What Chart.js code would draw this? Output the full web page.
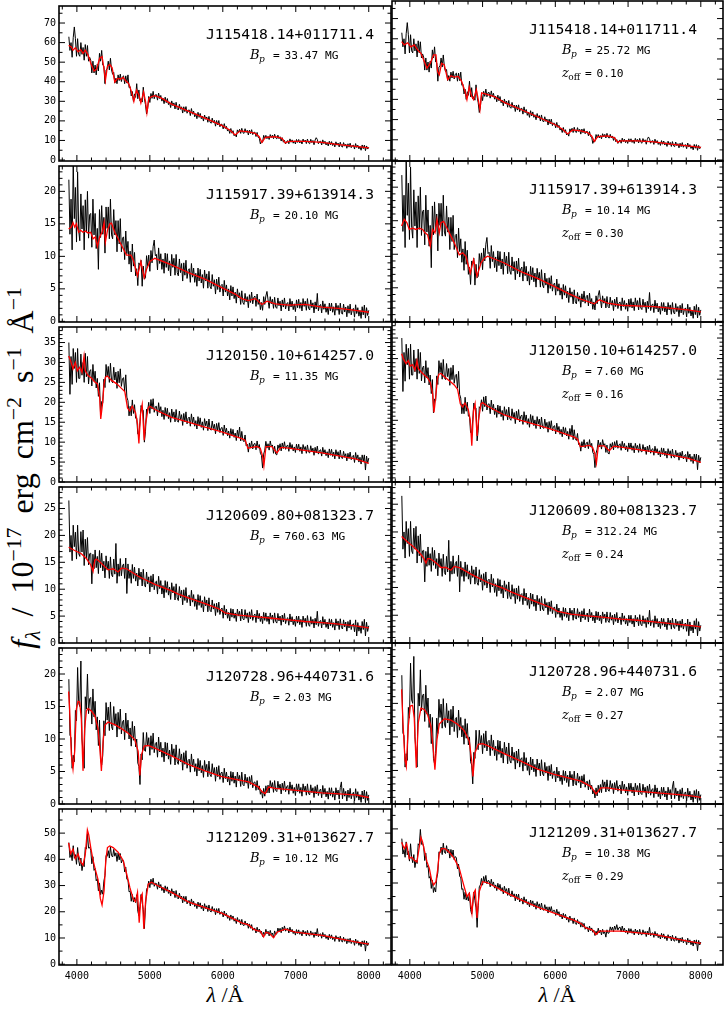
<!DOCTYPE html>
<html>
<head>
<meta charset="UTF-8">
<title>Magnetic white dwarf spectra</title>
<script src="https://cdn.jsdelivr.net/npm/chart.js"></script>
<style>
  html, body { margin: 0; padding: 0; background: #fff; }
  body { width: 726px; height: 1011px; position: relative; overflow: hidden; }
  canvas { position: absolute; }
  .xlab { position: absolute; top: 982px; width: 120px; margin-left: -60px; text-align: center;
          font: 22px "Liberation Serif", "DejaVu Serif", serif; color: #000; }
  .ylab { position: absolute; left: 22px; top: 468px; white-space: nowrap; word-spacing: 6px;
          transform: translate(-50%, -50%) rotate(-90deg);
          font: 32px "Liberation Serif", "DejaVu Serif", serif; color: #000; }
  sup, sub { font-size: 0.68em; line-height: 0; }
</style>
</head>
<body>
<div class="ylab"><i>f</i><sub><i>λ</i></sub> / 10<sup>−17</sup> erg cm<sup>−2</sup> s<sup>−1</sup> Å<sup>−1</sup></div>
<div class="xlab" style="left:225px"><i>λ</i> /Å</div>
<div class="xlab" style="left:557px"><i>λ</i> /Å</div>

<script>
  // observed wavelength grid (Angstrom), shared by all six spectra
  const waveObs = [
    3890,3905,3920,3935,3950,3965,3980,3995,4010,4025,
    4040,4055,4070,4085,4100,4115,4130,4145,4160,4175,
    4190,4205,4220,4235,4250,4265,4280,4295,4310,4325,
    4340,4355,4370,4385,4400,4415,4430,4445,4460,4475,
    4490,4505,4520,4535,4550,4565,4580,4595,4610,4625,
    4640,4655,4670,4685,4700,4715,4730,4745,4760,4775,
    4790,4805,4820,4835,4850,4865,4880,4895,4910,4925,
    4940,4955,4970,4985,5000,5015,5030,5045,5060,5075,
    5090,5105,5120,5135,5150,5165,5180,5195,5210,5225,
    5240,5255,5270,5285,5300,5315,5330,5345,5360,5375,
    5390,5405,5420,5435,5450,5465,5480,5495,5510,5525,
    5540,5555,5570,5585,5600,5615,5630,5645,5660,5675,
    5690,5705,5720,5735,5750,5765,5780,5795,5810,5825,
    5840,5855,5870,5885,5900,5915,5930,5945,5960,5975,
    5990,6005,6020,6035,6050,6065,6080,6095,6110,6125,
    6140,6155,6170,6185,6200,6215,6230,6245,6260,6275,
    6290,6305,6320,6335,6350,6365,6380,6395,6410,6425,
    6440,6455,6470,6485,6500,6515,6530,6545,6560,6575,
    6590,6605,6620,6635,6650,6665,6680,6695,6710,6725,
    6740,6755,6770,6785,6800,6815,6830,6845,6860,6875,
    6890,6905,6920,6935,6950,6965,6980,6995,7010,7025,
    7040,7055,7070,7085,7100,7115,7130,7145,7160,7175,
    7190,7205,7220,7235,7250,7265,7280,7295,7310,7325,
    7340,7355,7370,7385,7400,7415,7430,7445,7460,7475,
    7490,7505,7520,7535,7550,7565,7580,7595,7610,7625,
    7640,7655,7670,7685,7700,7715,7730,7745,7760,7775,
    7790,7805,7820,7835,7850,7865,7880,7895,7910,7925,
    7940,7955,7970,7985,8000
  ];

  const fluxJ1154 = [
    63,56,60,52.5,62.5,68,62,53,62,54,
    53,60,54,57.5,51,59,53,58.5,50.5,52.5,
    51,44.5,50.5,44.5,48.5,43.5,49,45.5,54.5,50.5,
    56,48.5,48,39,46,46.5,50.5,46,52,46,
    43.8,44.8,39.3,41.8,39,43.5,40.6,43.9,40.1,42.5,
    43,39,43,39.3,43.5,37,37.5,32.7,35,30,
    33.8,32,39,31.3,35.8,30.2,31.4,29.6,37.2,31.3,
    28.3,23.5,26.3,32.5,29.4,34,31.5,35.1,31.3,33.3,
    33.4,30.6,34.2,31.4,33,30.1,31.6,28.8,32.1,29.3,
    31.4,28.3,29.7,26.8,30.2,27.8,29.2,26.1,29.5,26.2,
    25.6,28.5,25.9,27.2,24,27.2,24.7,27.3,23.9,25.4,
    25.6,22.7,26.3,23.4,25,22.1,23.7,21.1,24.4,21.8,
    23.8,21.1,22.4,19.9,23,20.8,22,19.3,22.3,19.4,
    18.8,21.4,19.1,20.3,17.3,20.2,17.9,20.2,17,18.3,
    18.2,15.9,18.6,16.1,17.2,14.8,15.8,13.6,16.1,13.7,
    15,12.4,13.3,11.8,15.4,14.2,15.7,13.6,16.2,14,
    13.6,16,14.1,15.2,12.8,15.3,13.5,15.5,13,14.1,
    14.2,12,14.1,11.6,11.3,8.2,9.6,9.1,12.6,11,
    12.6,10.9,12.1,10.5,13,11.5,12.7,10.9,13.2,11.3,
    10.8,12.7,10.9,11.9,9.7,11.4,9.1,10.1,8.2,9.5,
    9.9,8.3,10.8,9.1,10.3,8.6,9.8,8.2,10.5,9,
    10.5,8.7,9.9,8.2,10.7,9.2,10.2,8.4,10.7,8.8,
    8.3,10.6,8.9,10,7.8,10.2,11.4,10.5,8.3,9.4,
    9.6,7.7,10.3,8.4,9.6,7.7,8.9,7.2,9.6,7.8,
    9.4,7.4,8.6,6.7,9.3,7.6,8.7,6.7,9.1,7,
    6.6,8.9,7.1,8.1,6,8.3,6.6,8.6,6.3,7.3,
    7.6,5.6,8.4,6.4,7.6,5.7,6.9,5,7.7,5.8,
    7.6,4.8,7.2,5.6,6.5
  ];
  const fluxJ1159 = [
    21.8,13.4,18.8,11,24.5,15.8,20.6,12.2,23,14,
    12.4,19.6,14.2,17.8,11,18.7,13.7,20,12.8,16.4,
    16.6,11.4,18.8,13.3,16.6,11.2,14.3,8,17.2,12.9,
    17.8,13.4,16,10.5,17.6,14.3,17.6,12.7,18.8,13.3,
    12.7,17.2,13.3,15.5,10.7,15.5,11.9,15.8,10.7,12.8,
    13,9.5,13.9,10.4,12.3,8.8,10.8,7.6,11.9,8.5,
    10.6,7,8.1,5.5,9,8.6,9.4,5.4,8.5,6.5,
    6.7,10.1,8.5,10.2,7.7,10.9,9,11.5,12.5,10.1,
    10.3,7.9,11.3,8.9,10.4,8,9.6,7.4,10.5,8.3,
    10.4,7.8,9.3,7,10.3,8.3,9.7,7.1,10.3,7.5,
    7,9.6,7.5,8.9,6.2,9,7.1,9.4,6.6,7.8,
    8.1,6,8.9,6.8,8.2,6,7.4,5.4,8.2,6.2,
    8,5.9,7.2,5.1,7.9,6.2,7.3,5.1,7.7,5.4,
    5,7.2,5.4,6.4,4.2,6.5,4.9,6.8,4.5,5.5,
    5.7,3.9,6.3,4.5,5.6,3.9,5,3.3,5.5,3.9,
    5.3,3.5,4.5,2.8,5,3.6,4.4,2.6,4.7,2.9,
    2.6,4.3,3,3.8,2.1,4.1,2.9,4.5,2.7,3.7,
    3.9,2.3,4.2,2.6,3.4,1.8,2.9,1.7,3.8,2.6,
    3.9,4.6,3.3,2,3.8,2.7,3.4,2,3.7,2.2,
    2,3.6,2.4,3.1,1.6,3.3,2.2,3.6,1.9,2.7,
    2.9,1.6,3.5,2.2,3.1,1.8,2.7,1.5,3.3,2.1,
    3.4,2,2.9,1.6,3.5,2.3,3.1,1.7,3.5,2,
    1.75,3.3,2.1,2.85,1.3,3,1.9,4.3,1.6,2.4,
    2.6,1.3,3.15,1.85,2.7,1.4,2.25,1.05,2.8,1.6,
    2.8,1.4,2.25,0.95,2.8,1.7,2.45,1.05,2.8,1.3,
    1.1,2.65,1.45,2.2,0.7,2.4,1.25,2.65,1,1.8,
    2,0.65,2.55,1.2,2.1,0.8,1.65,0.45,2.25,1,
    2.5,0.5,2.1,0.9,1.7
  ];
  const fluxJ1201 = [
    35,22,31.5,24.5,33.5,28.5,32.5,25,33.5,26,
    26,32.1,26.8,30,25,32.3,26.4,31.5,24.6,27.8,
    28.2,24.1,29.5,25.3,27.8,23.6,26,21.5,24.9,16.8,
    20.2,19.8,25.8,23.7,29.5,26.6,29,25,29.8,25.4,
    24.9,28.8,25.6,27.6,23.5,27.8,24.9,28.4,24,25.9,
    26.2,22.8,26.9,21.3,20.4,16.6,19,16.6,20.6,17.2,
    19.4,16,16.1,12,11.8,15.1,19.2,17.9,18,10,
    12.6,18.3,17.9,20,17.2,20.7,18.3,20.9,17.5,18.9,
    19,16.6,19.9,17.5,18.9,16.4,18,15.7,18.7,16.5,
    18.5,15.9,17.4,15,18.3,16.2,17.6,15.1,18.2,15.4,
    15,17.8,15.6,16.9,14.2,17.2,15.1,17.6,14.6,16,
    16.3,14,17.1,14.8,16.3,14,15.4,13.3,16.4,14.2,
    16.1,13.7,15.1,13,15.9,14.1,15.3,12.9,15.8,13.3,
    13,15.3,13.4,14.5,12.1,14.7,12.9,14.9,12.4,13.5,
    13.7,11.7,14.3,12.4,13.5,11.6,12.8,11,13.4,11.6,
    13.2,11.2,12.3,10.4,13,11.3,13.8,10.3,12.7,10.5,
    10.1,11.8,9.1,9.5,7.5,9.8,8.5,10.3,8.3,9.5,
    9.7,8.1,10.3,8.5,9.4,7.2,6.7,3.5,7,8,
    10.2,8.5,9.6,8,10.3,8.9,9.3,7.2,9,7,
    6.8,9.3,8.4,9.6,7.8,9.8,8.4,10.1,8.2,9,
    9.3,7.7,9.9,8.3,9.4,7.8,8.8,7.4,9.5,8,
    9.5,7.7,8.8,7.1,9.4,8.1,8.9,7.2,9.3,7.5,
    7.3,9.1,7.6,8.5,6.7,8.7,7.3,9,7,7.9,
    8.1,6.5,8.7,7.1,8.1,6.6,7.6,6.1,8.3,6.7,
    8.2,6.4,7.5,5.8,8.1,6.7,7.6,5.8,8,6.1,
    5.9,7.7,6.2,7.1,5.3,7.2,5.9,7.5,5.6,6.4,
    6.7,4.9,7.4,5.6,6.8,5,6.2,4.5,6.8,5.2,
    6.8,3,6.5,4.7,6
  ];
  const fluxJ1206 = [
    26.5,16.9,20,15.3,21.9,17.9,20.6,15.6,21.9,16.6,
    16.1,20.7,16.9,21,14.4,19.3,15.7,19.6,14.5,16.6,
    16.7,11,16.5,13.8,17.3,14,16.1,12.9,17.2,14,
    16.7,13.4,15.2,12.1,16.2,13.6,15.2,12,16,12.7,
    12.3,15.6,12.8,18.5,11.1,14.7,12.4,15.7,12.5,14.3,
    14.7,12,15.8,9.2,14.7,12,13.6,11.1,14.6,12,
    14.1,11.5,13,10.6,13.9,11.8,13.2,10.6,13.7,10.9,
    10.4,13.2,11,12.3,9.5,12.5,10.4,12.8,9.9,11.3,
    11.5,9.1,12.4,10.1,11.6,9.1,10.7,8.4,11.6,9.4,
    11.4,8.9,10.4,8.1,11.2,9.3,10.5,8,11,8.4,
    7.9,10.5,8.4,9.8,7.1,9.9,7.9,10.3,7.5,8.7,
    8.9,6.9,9.8,7.6,9,6.8,8.2,6.2,9,7,
    8.8,6.6,7.9,5.8,8.6,6.9,8,5.8,8.4,6.1,
    5.8,8,6.3,7.3,5.1,7.4,5.7,7.6,5.3,6.3,
    6.5,4.6,7,5.2,6.3,4.6,5.7,4.1,6.4,4.8,
    6.3,4.6,5.6,4,6.3,5,5.9,4.1,6.3,4.5,
    4.3,6.2,4.6,5.6,3.8,5.8,4.5,6.2,4.2,5.1,
    5.4,3.8,6.1,4.5,5.5,4,5,3.6,5.7,4.2,
    5.6,4,5,3.5,5.6,4.4,5.2,3.7,5.6,4,
    3.7,5.5,4.1,5,3.3,5.2,3.9,5.5,3.6,4.5,
    4.7,3.3,5.4,3.9,4.9,3.4,4.4,3.1,5,3.7,
    5,3.4,4.4,2.9,5,3.8,4.6,3.1,5.1,3.4,
    3.1,4.9,3.5,4.4,2.8,4.6,3.4,5.9,3.1,4,
    4.2,2.8,4.9,3.4,4.4,2.9,3.9,2.6,4.5,3.2,
    4.4,2.9,3.8,2.4,4.5,3.2,4.1,2.5,4.5,2.9,
    2.6,4.3,3,3.9,2.2,4,2.8,4.3,2.5,3.4,
    3.6,2.1,4.3,1.3,3.8,2.2,3.2,1.8,4,2.5,
    4.4,1.3,3.85,2.15,3.2
  ];
  const fluxJ1207 = [
    19.2,10.6,10.2,5.5,7.5,6.5,14.4,12.8,21,15.5,
    15,22,10,7.8,5.5,16.5,14.6,20,13.9,16.2,
    16.4,12.3,17.7,13.4,15.8,11.4,13.4,9,12.9,6.8,
    6,7.5,12.8,10.5,15.6,12.9,14.9,11.3,15.7,11.9,
    11.4,15,12.1,13.9,10.3,14.1,11.5,14.6,10.8,12.6,
    12.9,9.9,14,11,12.9,10,11.7,8.9,12.7,9.8,
    12,8.8,10,6.3,5.8,3,7.7,6.8,11,8.3,
    8.1,11,8.9,10.2,7.5,10.5,8.4,10.9,7.9,9.3,
    9.5,7.2,10.3,8,9.5,7.2,8.6,6.5,9.5,7.4,
    9.4,6.9,8.3,6.1,9.2,7.3,8.5,6,9.1,6.5,
    6.1,8.5,6.5,7.7,5.2,7.9,6.1,8.2,5.5,6.7,
    6.9,4.9,7.7,5.7,6.9,5,6.2,4.3,7,5.1,
    6.7,4.8,5.9,4.1,6.7,5.1,6.1,4.2,6.6,4.5,
    4.2,6.2,4.6,5.6,3.5,5.7,4.2,5.9,3.8,4.8,
    4.9,3.3,5.5,3.9,4.9,3.4,4.3,2.9,5,3.5,
    4.9,3.2,4.3,2.6,4.9,3.6,4.4,2.7,4.9,3,
    2.8,4.6,3.2,4.1,2.4,4.2,3,4.4,2.5,3.3,
    3.4,2.1,3.6,2.2,2.8,1.5,2.1,0.9,2.4,1.2,
    2.8,1.7,2.9,1.7,3.6,2.5,3.3,1.8,3.6,2.1,
    1.9,3.5,2.3,3.05,1.55,3.2,2.1,3.5,1.9,2.65,
    2.85,1.5,3.4,2.1,2.95,1.65,2.55,1.3,3.1,1.9,
    3.1,1.65,2.55,1.2,3.1,2,2.75,1.35,3.1,1.6,
    1.4,2.95,1.75,2.5,1,2.7,1.55,2.95,1.3,2.1,
    2.3,0.95,2.85,1.5,2.4,1.1,1.95,0.75,2.5,1.3,
    2.5,1.05,1.95,0.6,2.5,1.4,2.15,0.75,2.55,3.4,
    0.8,2.4,1.2,1.95,0.45,2.15,1,2.4,0.8,1.6,
    1.8,0.45,2.35,1,1.9,0.6,1.45,0.25,2,0.8,
    2.15,0.2,1.9,0.55,1.4
  ];
  const fluxJ1212 = [
    46.4,40.7,42.4,39.5,45.2,40.4,41.8,38.1,44.5,39.5,
    37.5,40.5,35.7,38.4,37.2,44.5,43.9,49.8,44.3,44.6,
    43.5,38.3,41,35.8,36.5,31.8,32.5,28,31,26.5,
    28.3,26.7,31.7,33.8,41.5,41.1,43.3,40.5,44.7,41.4,
    40.9,43.8,41.2,42.5,39.2,42.4,39.8,42.2,38.6,39.8,
    39.3,35.2,37,32.4,32.2,27.6,27.9,24,26.6,23.7,
    25.4,23.4,26.5,20.2,18.5,22.1,26.6,23.6,20.8,13.6,
    21.7,28.6,29.3,31.7,29.2,32.4,30.4,32.8,29.7,30.9,
    30.8,28.6,31.4,29.1,30.4,28.1,29.3,27.2,29.9,27.8,
    29.5,27,28.3,26,28.8,26.8,27.9,25.4,28.1,25.4,
    24.9,27.1,25,26,23.4,25.9,23.9,25.9,23,24.1,
    24.3,22.2,24.9,22.8,24,22,23.1,21.2,23.7,21.8,
    23.4,21.2,22.5,20.3,23.1,21.2,22.3,20.1,22.6,20.3,
    19.9,22,20.2,21.2,18.9,21.2,19.5,21.3,19,19.9,
    19.9,18,20.3,18.4,19.4,17.5,18.5,16.7,18.8,17.1,
    18.4,16.4,17.4,15.5,17.8,16.1,17,15,17.1,15,
    14.7,16.5,14.9,15.7,13.7,15.4,13.7,15.1,12.9,13.6,
    13.7,11.9,14.1,12.4,13.4,11.8,12.6,10.6,12.2,11,
    13.3,11.6,12.6,10.8,12.9,11.3,11.9,10,12.7,11.4,
    11.6,13.8,12.5,13.7,12,14.1,12.8,14.6,12.6,13.5,
    13.7,11.9,14.1,12.3,13.3,11.7,12.6,11.1,13.2,11.7,
    13.1,11.4,12.4,10.8,13,11.7,12.5,10.8,12.9,11.1,
    10.8,12.7,11.1,12.1,10.2,12.2,10.8,13.6,10.5,11.4,
    11.6,9.9,12.1,10.4,11.4,9.8,10.8,9.3,11.4,9.8,
    11.2,9.4,10.4,8.7,10.9,9.6,10.4,8.6,10.7,8.8,
    8.5,10.3,8.7,9.7,7.8,9.7,8.3,9.9,7.9,8.8,
    9,7.2,9.6,7.9,9,7.2,8.4,6.7,8.9,7.4,
    9,5,8.8,7.1,8.2
  ];

  // model fits [wavelength, flux]; "fit" = left column, "off" = right column (with z offset)
  const modelJ1154fit = [[3887,58.6],[3924,57.8],[3947,56.1],[3979,57.4],[4016,55.3],[4052,56.4],[4084,54.5],[4116,56.1],[4153,53.7],[4190,49.6],[4236,45.5],[4268,46.3],[4313,52],[4345,52.8],[4373,46.3],[4391,40.6],[4419,47.9],[4451,48.8],[4483,47.1],[4520,39.8],[4556,41.7],[4602,41.4],[4634,42.2],[4666,40.6],[4712,38.9],[4749,34.8],[4781,29.9],[4817,35.7],[4849,33.2],[4877,29.1],[4914,34.8],[4941,29.9],[4960,24.2],[4987,31.6],[5024,32.4],[5069,32.9],[5161,31.6],[5298,28.6],[5527,25],[5756,21.4],[5985,17.7],[6100,15.2],[6169,12.8],[6238,14.9],[6352,14.4],[6444,13.6],[6499,11.9],[6536,9],[6582,11.6],[6719,11.9],[6811,11.1],[6856,8.7],[6902,9.5],[7131,9.5],[7360,9],[7589,7.9],[7818,7],[8001,6.2]];
  const modelJ1154off = [[3887,58.6],[3924,57],[3970,58],[4016,56],[4061,57],[4107,54.5],[4153,52.8],[4199,48.8],[4236,45.5],[4281,47.9],[4327,52],[4359,52],[4382,43.8],[4405,42.2],[4437,47.9],[4474,47.1],[4520,39.8],[4565,41.7],[4611,41],[4666,41.4],[4712,38.9],[4758,34],[4785,29.9],[4817,36.2],[4849,31.6],[4877,29.9],[4914,34.8],[4941,29.9],[4964,25],[4987,33.2],[5024,32.9],[5069,32.4],[5161,31.4],[5298,28.5],[5527,25],[5756,21.4],[5985,17.7],[6100,15.2],[6169,12.9],[6238,14.9],[6352,14.4],[6444,13.6],[6499,11.9],[6536,9.2],[6582,11.6],[6719,11.9],[6811,11.1],[6856,8.8],[6902,9.5],[7131,9.5],[7360,9],[7589,7.9],[7818,7],[8001,6.2]];
  const modelJ1159fit = [[3887,14.2],[3924,14.5],[3947,15.2],[3970,14.5],[3993,15],[4025,13.7],[4052,14],[4084,13.7],[4116,13.9],[4153,13.6],[4190,13.7],[4222,12.7],[4254,13],[4281,11.5],[4313,13],[4345,13.7],[4373,15.2],[4391,12.2],[4419,14],[4451,15],[4474,15.1],[4520,13.7],[4611,11.7],[4680,10.2],[4740,10.2],[4771,9.5],[4831,7],[4877,9.2],[4923,6.7],[4955,8],[5000,9.2],[5069,9.7],[5298,8.7],[5527,7.5],[5756,6.5],[5985,5.2],[6169,4.2],[6260,3.5],[6352,3.2],[6444,3.5],[6536,2.6],[6605,3.1],[6719,2.7],[6902,2.5],[7131,2.6],[7360,2.2],[7589,2],[7818,1.7],[8001,1.4]];
  const modelJ1159off = [[3887,14.2],[3924,15.2],[3960,14.7],[3993,13.7],[4038,13.9],[4084,13.7],[4130,13.9],[4176,13.7],[4208,13.2],[4245,12.9],[4281,11.2],[4313,13.7],[4345,13.2],[4373,15.2],[4405,13.2],[4428,14.7],[4465,14.9],[4520,13.7],[4611,11.7],[4680,9.9],[4726,10.2],[4771,9.7],[4831,7.2],[4877,9.2],[4923,6.7],[4978,8.7],[5024,9.4],[5069,9.7],[5298,8.7],[5527,7.4],[5756,6.4],[5985,5.2],[6169,4.2],[6352,3.3],[6536,2.6],[6605,3.2],[6719,2.7],[6902,2.4],[7360,2.2],[7818,1.7],[8001,1.4]];
  const modelJ1201fit = [[3887,31.6],[3915,30.4],[3947,28.4],[3979,30],[4006,27.9],[4038,28.8],[4070,27.5],[4098,31.6],[4116,27.9],[4153,26.7],[4199,26.1],[4245,25.1],[4281,24.7],[4313,21.1],[4327,15.8],[4350,19.4],[4373,24.7],[4391,26.3],[4419,26.6],[4474,25.5],[4543,24.7],[4611,23.5],[4657,22.7],[4694,18.6],[4726,17.8],[4758,19],[4804,17.4],[4831,14.6],[4850,9.7],[4872,17],[4895,19.4],[4923,10.5],[4941,14.6],[4978,18.6],[5000,19],[5069,18.2],[5298,16.2],[5527,15],[5756,13.8],[5985,12.6],[6260,10.9],[6306,10.5],[6343,8.5],[6398,8.7],[6467,8.9],[6513,8.5],[6545,6.5],[6563,4],[6591,8.9],[6673,8.9],[6742,7.3],[6788,8.5],[6811,8.7],[6902,8.5],[7360,7.3],[7818,5.8],[8001,4.7]];
  const modelJ1201off = [[3887,31.2],[3915,29.8],[3947,28.8],[3979,29.5],[4006,28.2],[4038,28.5],[4070,27.2],[4098,29.5],[4116,27.6],[4153,26.8],[4199,26],[4245,25.3],[4281,24.2],[4313,21.5],[4332,16.9],[4355,20.5],[4378,25],[4400,26.2],[4428,26.4],[4474,25.6],[4543,24.6],[4611,23.6],[4657,22.5],[4694,19],[4726,18.2],[4758,19.2],[4804,17.6],[4831,15],[4852,8.8],[4875,17.3],[4897,19],[4925,11.2],[4943,15],[4978,19],[5000,19.3],[5069,18.4],[5298,16.3],[5527,15],[5756,13.8],[5985,12.6],[6260,10.9],[6306,10.4],[6343,8.6],[6398,8.7],[6467,8.9],[6513,8.4],[6545,6.8],[6565,4.6],[6591,8.8],[6673,8.8],[6742,7.6],[6788,8.5],[6811,8.7],[6902,8.5],[7360,7.3],[7818,5.8],[8001,4.8]];
  const modelJ1206fit = [[3887,17.8],[3970,17.2],[4061,16.6],[4130,15.7],[4190,14.5],[4222,13.3],[4245,15.4],[4268,15.6],[4313,15.1],[4382,14.2],[4428,13.6],[4497,13.8],[4565,13.2],[4611,13.9],[4680,13.8],[4840,12.4],[5069,10.9],[5298,9.7],[5390,9.1],[5527,8.4],[5756,7.3],[5939,6.4],[6031,5.6],[6214,5.2],[6444,4.9],[6673,4.6],[6902,4.3],[7131,4],[7360,3.8],[7589,3.5],[7818,3.2],[8001,2.8]];
  const modelJ1206off = [[3887,19.2],[3970,18.2],[4061,17.2],[4130,16.3],[4190,15.3],[4222,14.4],[4245,15.2],[4268,15.2],[4313,14.9],[4382,14.2],[4428,13.6],[4497,13.6],[4565,13.1],[4611,13.8],[4680,13.6],[4840,12.4],[5069,10.9],[5298,9.8],[5390,9.2],[5527,8.5],[5756,7.3],[5939,6.4],[6031,5.7],[6214,5.2],[6444,4.9],[6673,4.6],[6902,4.3],[7131,4.1],[7360,3.8],[7589,3.5],[7818,3.2],[8001,2.9]];
  const modelJ1207fit = [[3887,17.3],[3901,14.6],[3924,7.6],[3947,5.4],[3970,8.1],[3993,14.6],[4016,15.8],[4038,15.7],[4061,13.1],[4084,5.1],[4107,11.6],[4130,14.3],[4153,14.7],[4199,14.3],[4245,13.6],[4290,11.6],[4318,8.1],[4336,5.1],[4359,9.6],[4382,12.1],[4428,12.6],[4520,12.2],[4611,11.6],[4703,10.9],[4794,9.9],[4840,8.1],[4863,4.4],[4886,7.6],[4923,8.9],[4978,9],[5069,8.6],[5298,7.4],[5527,6.1],[5756,5.1],[5985,4.2],[6352,3.4],[6490,2.6],[6536,1.9],[6582,1.6],[6627,2.6],[6719,2.4],[6902,2.2],[7360,1.7],[7818,1.4],[8001,1]];
  const modelJ1207off = [[3887,17.1],[3906,12.1],[3933,6.6],[3951,5.6],[3979,11.6],[4006,14.6],[4038,14.7],[4061,12.8],[4089,5.4],[4116,12.1],[4153,14.3],[4199,14.1],[4245,13.3],[4290,11.6],[4327,7.6],[4345,5.1],[4373,9.6],[4405,11.9],[4474,12.7],[4565,12.5],[4657,11.9],[4749,10.9],[4817,9.4],[4849,6.6],[4868,4.1],[4895,7.6],[4941,8.9],[5000,9],[5069,8.7],[5298,7.5],[5527,6.4],[5756,5.2],[5985,4.4],[6352,3.4],[6490,2.6],[6559,1.5],[6627,2.4],[6719,2.4],[6902,2.1],[7360,1.7],[7818,1.3],[8001,1]];
  const modelJ1212fit = [[3887,46.3],[3915,42.1],[3947,43.9],[3979,40.2],[4016,42.1],[4052,39],[4084,37.8],[4116,42.1],[4144,51.2],[4162,49.4],[4190,44.5],[4222,39.6],[4254,36],[4290,32.3],[4322,25],[4345,22.6],[4373,28],[4396,39.6],[4419,44.5],[4451,45.1],[4497,44.5],[4565,42.7],[4634,39.6],[4680,34.7],[4726,29.3],[4771,25],[4804,23.8],[4831,27.4],[4854,15.8],[4877,25.6],[4895,26.8],[4918,13.4],[4941,23.8],[4978,30.5],[5024,31.3],[5069,30.5],[5298,27.4],[5527,23.8],[5756,21.6],[5985,19.5],[6260,15.8],[6352,15],[6421,13.4],[6467,12.8],[6513,12.6],[6559,10.4],[6591,12.2],[6637,11.8],[6696,10.1],[6742,12.2],[6856,13.4],[6994,12.2],[7360,11],[7818,8.5],[8001,7.7]];
  const modelJ1212off = [[3887,45.1],[3924,42.7],[3956,44.5],[3993,39],[4025,39.6],[4061,38.4],[4098,37.8],[4130,43.3],[4153,46.9],[4176,45.1],[4199,42.1],[4236,37.8],[4268,35.4],[4300,31.1],[4327,29.3],[4359,30.5],[4382,34.7],[4405,40.8],[4437,42.7],[4483,42.7],[4543,41.4],[4611,39],[4680,35.4],[4740,29.3],[4785,25],[4817,26.2],[4854,18.9],[4877,26.2],[4900,27.4],[4923,17.1],[4955,26.8],[5000,30.5],[5069,30.1],[5298,26.8],[5527,23.8],[5756,21.1],[5985,18.9],[6260,16.2],[6352,15],[6421,13.4],[6513,12.6],[6559,11],[6605,12.2],[6719,12.2],[6902,12.2],[7360,11],[7818,8.5],[8001,7.7]];

  const objNames = ['J115418.14+011711.4', 'J115917.39+613914.3', 'J120150.10+614257.0',
                    'J120609.80+081323.7', 'J120728.96+440731.6', 'J121209.31+013627.7'];
  const bpFit = ['33.47', '20.10', '11.35', '760.63', '2.03', '10.12'];
  const bpOff = ['25.72', '10.14', '7.60', '312.24', '2.07', '10.38'];
  const zOff = ['0.10', '0.30', '0.16', '0.24', '0.27', '0.29'];

  const xTickVals = [4000, 5000, 6000, 7000, 8000];
  const yTickVals = [
    [0, 10, 20, 30, 40, 50, 60, 70],
    [0, 5, 10, 15, 20],
    [0, 5, 10, 15, 20, 25, 30, 35],
    [0, 5, 10, 15, 20, 25],
    [0, 5, 10, 15, 20],
    [0, 10, 20, 30, 40, 50]
  ];

  const obsFlux = [fluxJ1154, fluxJ1159, fluxJ1201, fluxJ1206, fluxJ1207, fluxJ1212];
  const models = [
    [modelJ1154fit, modelJ1154off], [modelJ1159fit, modelJ1159off], [modelJ1201fit, modelJ1201off],
    [modelJ1206fit, modelJ1206off], [modelJ1207fit, modelJ1207off], [modelJ1212fit, modelJ1212off]
  ];

  // axis settings per row
  const yRange = [[-0.5, 78.7], [-0.1, 23.9], [0, 38.9], [0, 29], [0, 24], [-0.3, 59.2]];
  const yMinorStep = [5, 1, 1, 1, 1, 5];
  const X_MIN = 3755, X_MAX = 8305;

  // page geometry of the plot boxes
  const colX = [[59, 391], [392, 723]];
  const rowY = [1, 161, 322, 482, 643, 804, 965];
  const AXW = 59, AXH = 40, PAD = 4;

  Chart.defaults.font.family = '"DejaVu Sans Mono", monospace';
  Chart.defaults.color = '#000';

  function steps(min, max, step) {
    const out = [];
    for (let v = Math.ceil(min / step) * step; v <= max + 1e-9; v += step) out.push(+v.toFixed(6));
    return out;
  }

  function mathLine(ctx, x, y, sym, sub, subItalic, value) {
    ctx.textAlign = 'left';
    ctx.font = 'italic 13px "DejaVu Serif"';
    ctx.fillText(sym, x, y + 0.5);
    const sw = ctx.measureText(sym).width;
    ctx.font = (subItalic ? 'italic ' : '') + '9px "DejaVu Serif"';
    ctx.fillText(sub, x + sw - 0.5, y + 3.5);
    ctx.font = '11.2px "DejaVu Sans Mono"';
    ctx.fillText('=', x + 23, y);
    ctx.fillText(value, x + 34.5, y);
  }

  // inward ticks on all four sides, frame and the per-panel annotations
  const panelDecor = {
    id: 'panelDecor',
    afterDraw(chart, args, o) {
      const {ctx, chartArea: a} = chart;
      const xs = chart.scales.x, ys = chart.scales.y;
      const [ymin, ymax] = yRange[o.row];
      ctx.save();
      ctx.strokeStyle = '#000';
      ctx.lineWidth = 1;
      ctx.beginPath();
      const tickX = (v, len) => {
        const px = xs.getPixelForValue(v);
        ctx.moveTo(px, a.bottom); ctx.lineTo(px, a.bottom - len);
        ctx.moveTo(px, a.top); ctx.lineTo(px, a.top + len);
      };
      const tickY = (v, len) => {
        const py = ys.getPixelForValue(v);
        ctx.moveTo(a.left, py); ctx.lineTo(a.left + len, py);
        ctx.moveTo(a.right, py); ctx.lineTo(a.right - len, py);
      };
      steps(X_MIN, X_MAX, 200).forEach(v => tickX(v, xTickVals.includes(v) ? 6 : 3.5));
      steps(ymin, ymax, yMinorStep[o.row]).forEach(v => tickY(v, yTickVals[o.row].includes(v) ? 6 : 3.5));
      ctx.stroke();
      ctx.lineWidth = 1.6;
      ctx.strokeRect(a.left, a.top, a.right - a.left, a.bottom - a.top);

      ctx.fillStyle = '#000';
      ctx.textBaseline = 'alphabetic';
      ctx.textAlign = 'right';
      ctx.font = '14.7px "DejaVu Sans Mono"';
      ctx.fillText(objNames[o.row], a.right - (o.col ? 26 : 17), a.top + 33);
      const bx = a.left + (o.col ? 170 : 191);
      mathLine(ctx, bx, a.top + 52.5, 'B', 'p', true, (o.col ? bpOff : bpFit)[o.row] + ' MG');
      if (o.col) mathLine(ctx, bx, a.top + 75.5, 'z', 'off', false, zOff[o.row]);
      ctx.restore();
    }
  };

  function addPanel(row, col) {
    const [x0, x1] = colX[col];
    const y0 = rowY[row], y1 = rowY[row + 1];
    const w = x1 - x0 + AXW + PAD, h = y1 - y0 + PAD + AXH;
    const cv = document.createElement('canvas');
    cv.width = w; cv.height = h;
    cv.style.left = (x0 - AXW) + 'px';
    cv.style.top = (y0 - PAD) + 'px';
    cv.style.width = w + 'px';
    cv.style.height = h + 'px';
    document.body.appendChild(cv);

    const model = models[row][col];
    const flux = obsFlux[row];
    new Chart(cv, {
      type: 'line',
      data: {
        datasets: [
          {
            data: model.map(p => ({x: p[0], y: p[1]})),
            borderColor: '#ff0000', borderWidth: 1.3, pointRadius: 0, order: 0
          },
          {
            data: waveObs.map((wl, i) => ({x: wl, y: flux[i]})),
            borderColor: '#000000', borderWidth: 1, pointRadius: 0, order: 1
          }
        ]
      },
      options: {
        responsive: false,
        animation: false,
        events: [],
        layout: {padding: {left: 0, top: PAD, right: PAD, bottom: 0}},
        plugins: {
          legend: {display: false},
          tooltip: {enabled: false},
          panelDecor: {row, col}
        },
        scales: {
          x: {
            type: 'linear', min: X_MIN, max: X_MAX,
            grid: {display: false, drawTicks: false},
            border: {display: false},
            ticks: {
              display: row === 5, autoSkip: false, maxRotation: 0, padding: 5,
              font: {size: 10}, callback: v => String(v)
            },
            afterBuildTicks: s => { s.ticks = xTickVals.map(v => ({value: v})); },
            afterFit: s => { s.height = AXH; }
          },
          y: {
            type: 'linear', min: yRange[row][0], max: yRange[row][1],
            grid: {display: false, drawTicks: false},
            border: {display: false},
            ticks: {
              display: col === 0, autoSkip: false, padding: 3,
              font: {size: 10}, callback: v => String(v)
            },
            afterBuildTicks: s => { s.ticks = yTickVals[row].map(v => ({value: v})); },
            afterFit: s => { s.width = AXW; }
          }
        }
      },
      plugins: [panelDecor]
    });
  }

  for (let r = 0; r < 6; r++) {
    for (let c = 0; c < 2; c++) addPanel(r, c);
  }
</script>
</body>
</html>
